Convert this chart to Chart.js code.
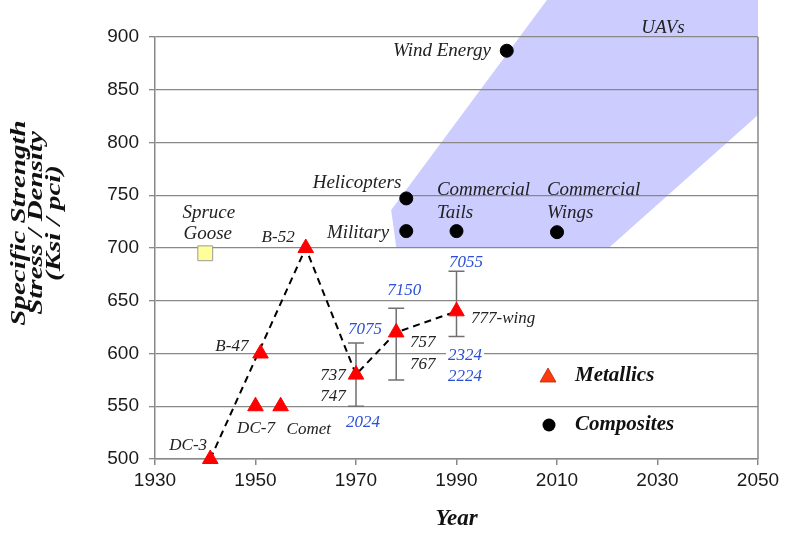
<!DOCTYPE html>
<html>
<head>
<meta charset="utf-8">
<script src="https://cdn.jsdelivr.net/npm/chart.js@4.4.1/dist/chart.umd.min.js"></script>
<style>
  html, body { margin: 0; padding: 0; background: #fff; }
  #wrap { width: 785px; height: 535px; }
</style>
</head>
<body>
<div id="wrap"><canvas id="myChart" width="785" height="535"></canvas></div>
<script>
// values

const metalNames = ['DC-3', 'B-47', 'DC-7', 'Comet', 'B-52', '737/747', '757/767', '777-wing'];
const metalYears = [1941, 1951, 1950, 1955, 1960, 1970, 1978, 1990];
const metalValues = [500, 600, 550, 550, 700, 580, 620, 640];

// dashed trend through the metallics
const trendYears = [1941, 1960, 1970, 1978, 1990];
const trendValues = [500, 700, 580, 620, 640];

// alloy ranges (error bars)
const errYears = [1970, 1978, 1990];
const errLow = [550, 575, 616];
const errHigh = [610, 643, 678];

const compNames = ['Wind Energy', 'Helicopters', 'Military', 'Commercial Tails', 'Commercial Wings'];
const compYears = [2000, 1980, 1980, 1990, 2010];
const compValues = [887, 747, 716, 716, 715];

const gooseYears = [1940];
const gooseValues = [695];

// UAV region outline
const uavYears = [2008, 2050, 2050, 2020.5, 1978, 1977];
const uavValues = [935, 935, 826, 701, 701, 736];

const xTicks = [1930, 1950, 1970, 1990, 2010, 2030, 2050];
const yTicks = [500, 550, 600, 650, 700, 750, 800, 850, 900];

const yTitle = ['Specific Strength', 'Stress / Density', '(Ksi / pci)'];

// text notes: [text, year, value, align, kind, whiteBox]
const notes = [
    ['DC-3', 1936.6, 513, 'center', 'metal'],
    ['DC-7', 1950.1, 529, 'center', 'metal'],
    ['Comet', 1960.6, 528, 'center', 'metal'],
    ['B-47', 1945.3, 607, 'center', 'metal'],
    ['B-52', 1954.5, 709.5, 'center', 'metal'],
    ['737', 1965.4, 579, 'center', 'metal'],
    ['747', 1965.4, 559, 'center', 'metal'],
    ['7075', 1971.8, 623, 'center', 'alloy'],
    ['2024', 1971.4, 535, 'center', 'alloy'],
    ['7150', 1979.6, 660, 'center', 'alloy'],
    ['757', 1983.3, 610, 'center', 'metal', true],
    ['767', 1983.3, 590, 'center', 'metal', true],
    ['7055', 1991.9, 686, 'center', 'alloy'],
    ['777-wing', 1999.3, 633, 'center', 'metal'],
    ['2324', 1991.7, 598, 'center', 'alloy', true],
    ['2224', 1991.7, 578, 'center', 'alloy', true],
    ['Spruce', 1940.7, 733, 'center', 'comp'],
    ['Goose', 1940.5, 713, 'center', 'comp'],
    ['Helicopters', 1970.2, 761.5, 'center', 'comp'],
    ['Military', 1970.4, 714, 'center', 'comp'],
    ['Wind Energy', 1987.1, 887, 'center', 'comp'],
    ['Commercial', 1986.1, 755, 'left', 'comp'],
    ['Tails', 1986.1, 733, 'left', 'comp'],
    ['Commercial', 2008.0, 755, 'left', 'comp'],
    ['Wings', 2008.0, 733, 'left', 'comp'],
    ['UAVs', 2031.1, 908.5, 'center', 'comp']
];

const noteFonts = {
    metal: ['italic 17px "Liberation Serif"', '#222'],
    alloy: ['italic 17px "Liberation Serif"', '#2b4fd8'],
    comp: ['italic 19px "Liberation Serif"', '#222']
};

const toPoints = (xs, ys) => xs.map((x, i) => ({ x: x, y: ys[i] }));

const regionPlugin = {
    id: 'uavRegion',
    beforeDraw(chart) {
        const { ctx, scales: { x, y } } = chart;
        ctx.save();
        ctx.beginPath();
        uavYears.forEach((yr, i) => {
            const px = x.getPixelForValue(yr);
            const py = y.getPixelForValue(uavValues[i]);
            if (i === 0) ctx.moveTo(px, py); else ctx.lineTo(px, py);
        });
        ctx.closePath();
        ctx.fillStyle = '#ccccff';
        ctx.fill();
        ctx.restore();
    }
};

const errorBarPlugin = {
    id: 'errorBars',
    beforeDatasetsDraw(chart) {
        const { ctx, chartArea, scales: { x, y } } = chart;
        ctx.save();
        // right frame edge
        ctx.strokeStyle = '#888';
        ctx.lineWidth = 1.5;
        ctx.beginPath();
        ctx.moveTo(chartArea.right, chartArea.top);
        ctx.lineTo(chartArea.right, chartArea.bottom);
        ctx.stroke();

        ctx.strokeStyle = '#707070';
        ctx.lineWidth = 1.5;
        errYears.forEach((yr, i) => {
            const px = x.getPixelForValue(yr);
            const lo = y.getPixelForValue(errLow[i]);
            const hi = y.getPixelForValue(errHigh[i]);
            ctx.beginPath();
            ctx.moveTo(px, lo); ctx.lineTo(px, hi);
            ctx.moveTo(px - 8, lo); ctx.lineTo(px + 8, lo);
            ctx.moveTo(px - 8, hi); ctx.lineTo(px + 8, hi);
            ctx.stroke();
        });
        ctx.restore();
    }
};

const labelPlugin = {
    id: 'notes',
    afterDatasetsDraw(chart) {
        const { ctx, chartArea, scales: { x, y } } = chart;
        ctx.save();
        ctx.textBaseline = 'middle';
        notes.forEach(([text, yr, val, align, kind, box]) => {
            const px = x.getPixelForValue(yr);
            const py = y.getPixelForValue(val);
            ctx.font = noteFonts[kind][0];
            ctx.textAlign = align;
            if (box) {
                const w = ctx.measureText(text).width;
                const left = align === 'left' ? px : px - w / 2;
                ctx.fillStyle = '#fff';
                ctx.fillRect(left - 2, py - 9, w + 4, 18);
            }
            ctx.fillStyle = noteFonts[kind][1];
            ctx.fillText(text, px, py);
        });

        // legend inside the plot
        const lx = chartArea.left + 393;
        const ly1 = chartArea.top + 339;
        const ly2 = chartArea.top + 388;
        ctx.beginPath();
        ctx.moveTo(lx, ly1 - 8);
        ctx.lineTo(lx + 8, ly1 + 6);
        ctx.lineTo(lx - 8, ly1 + 6);
        ctx.closePath();
        ctx.fillStyle = '#ff3a0a';
        ctx.fill();
        ctx.strokeStyle = '#b02a10';
        ctx.lineWidth = 0.8;
        ctx.stroke();
        ctx.beginPath();
        ctx.arc(lx + 1, ly2, 6.5, 0, Math.PI * 2);
        ctx.fillStyle = '#000';
        ctx.fill();
        ctx.font = 'bold italic 21px "Liberation Serif"';
        ctx.textAlign = 'left';
        ctx.fillStyle = '#111';
        ctx.fillText('Metallics', lx + 27, ly1);
        ctx.fillText('Composites', lx + 27, ly2);

        // y axis title, stretched like the original
        ctx.translate(37, 223);
        ctx.rotate(-Math.PI / 2);
        ctx.scale(1.45, 1);
        ctx.font = 'bold italic 20px "Liberation Serif"';
        ctx.textAlign = 'center';
        yTitle.forEach((line, i) => {
            ctx.fillText(line, 0, (i - 1) * 17.5);
        });
        ctx.restore();
    }
};

const ctx = document.getElementById('myChart').getContext('2d');

new Chart(ctx, {
    type: 'scatter',
    data: {
        datasets: [
            {
                label: 'Metallics',
                data: toPoints(metalYears, metalValues),
                pointStyle: 'triangle',
                pointRadius: 9,
                backgroundColor: '#ff0000',
                borderColor: '#ff0000',
                borderWidth: 1,
                clip: false
            },
            {
                label: 'Composites',
                data: toPoints(compYears, compValues),
                pointStyle: 'circle',
                pointRadius: 6.5,
                backgroundColor: '#000',
                borderColor: '#000',
                clip: false
            },
            {
                label: 'Spruce Goose',
                data: toPoints(gooseYears, gooseValues),
                pointStyle: 'rect',
                pointRadius: 10.5,
                backgroundColor: '#ffff99',
                borderColor: '#9a9a9a',
                borderWidth: 1,
                clip: false
            },
            {
                label: 'Trend',
                data: toPoints(trendYears, trendValues),
                showLine: true,
                borderColor: '#000',
                borderWidth: 2,
                borderDash: [7, 5],
                pointRadius: 0,
                fill: false,
                clip: false
            }
        ]
    },
    options: {
        responsive: false,
        animation: false,
        layout: { padding: { top: 37, right: 27, left: 0, bottom: 0 } },
        scales: {
            x: {
                type: 'linear',
                min: 1930,
                max: 2050,
                afterBuildTicks: (axis) => { axis.ticks = xTicks.map(v => ({ value: v })); },
                afterFit: (axis) => { axis.height = 76; },
                grid: { drawOnChartArea: false, drawTicks: true, tickLength: 6, color: '#888', lineWidth: 1.5 },
                border: { color: '#888', width: 1.5 },
                ticks: {
                    font: { family: 'Liberation Sans', size: 19 },
                    color: '#1a1a1a',
                    padding: 4,
                    maxRotation: 0,
                    callback: (v) => String(v)
                },
                title: {
                    display: true,
                    text: 'Year',
                    font: { family: 'Liberation Serif', size: 23, weight: 'bold', style: 'italic' },
                    color: '#111',
                    padding: { top: 0, bottom: 2 }
                }
            },
            y: {
                min: 500,
                max: 900,
                afterBuildTicks: (axis) => { axis.ticks = yTicks.map(v => ({ value: v })); },
                afterFit: (axis) => { axis.width = 155; },
                grid: { color: '#888', lineWidth: 1.3, tickLength: 6 },
                border: { color: '#888', width: 1.5 },
                ticks: {
                    font: { family: 'Liberation Sans', size: 19 },
                    color: '#1a1a1a',
                    padding: 10
                }
            }
        },
        plugins: {
            legend: { display: false },
            tooltip: { enabled: false }
        }
    },
    plugins: [regionPlugin, errorBarPlugin, labelPlugin]
});
</script>
</body>
</html>
